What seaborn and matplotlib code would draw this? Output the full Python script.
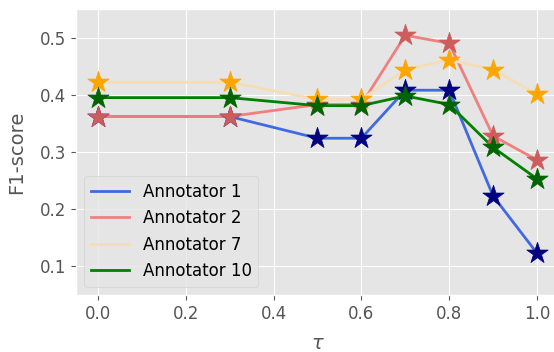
import numpy as np
import pandas as pd
import matplotlib
matplotlib.use('Agg')
import matplotlib.pyplot as plt
import seaborn as sns

# thresholds and F1 per annotator
tau = [0.0, 0.3, 0.5, 0.6, 0.7, 0.8, 0.9, 1.0]
ann1 = [0.362, 0.362, 0.324, 0.324, 0.408, 0.408, 0.223, 0.123]
ann2 = [0.362, 0.362, 0.383, 0.383, 0.504, 0.490, 0.328, 0.286]
ann7 = [0.422, 0.422, 0.392, 0.392, 0.444, 0.461, 0.444, 0.401]
ann10 = [0.395, 0.395, 0.381, 0.381, 0.398, 0.383, 0.308, 0.253]

names = ['Annotator 1', 'Annotator 2', 'Annotator 7', 'Annotator 10']
line_colors = ['royalblue', 'lightcoral', 'wheat', 'green']
star_colors = ['navy', 'indianred', 'orange', 'darkgreen']

plt.style.use('ggplot')

fig = plt.figure(figsize=(5.54, 3.52), dpi=100)
ax = fig.add_axes([0.137, 0.162, 0.872, 0.8125])

for name, vals, lc, sc in zip(names, [ann1, ann2, ann7, ann10], line_colors, star_colors):
    df = pd.DataFrame({'tau': tau, 'f1': vals})
    sns.lineplot(data=df, x='tau', y='f1', color=lc, linewidth=2, label=name, ax=ax)
    sns.scatterplot(data=df, x='tau', y='f1', color=sc, marker='*', s=260,
                    edgecolor=sc, linewidth=0.5, legend=False, ax=ax, zorder=3)

ax.set_ylim(0.05, 0.55)
ax.set_xlim(-0.05, 1.05)
ax.set_yticks([0.1, 0.2, 0.3, 0.4, 0.5])
ax.set_xlabel(r'$\tau$', fontsize=14, labelpad=8)
ax.set_ylabel('F1-score', fontsize=14, labelpad=10)
ax.tick_params(labelsize=12)
ax.legend(loc='lower left', fontsize=12, handlelength=2.3)

fig.savefig('out.png', dpi=100)
